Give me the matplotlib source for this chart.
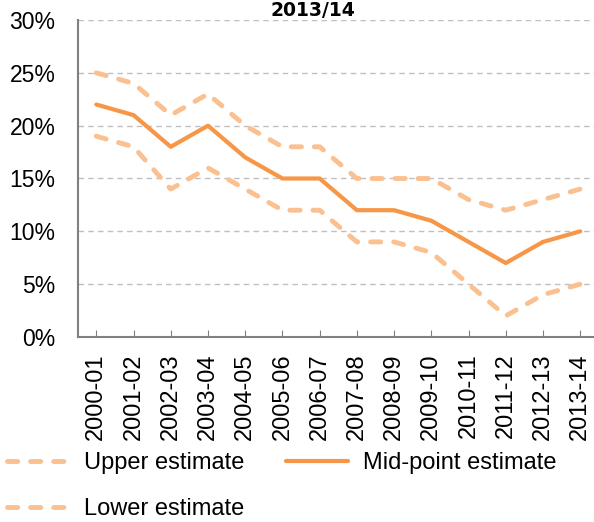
import numpy as np
import matplotlib.pyplot as plt
from matplotlib.ticker import PercentFormatter

# data
years = ['2000-01', '2001-02', '2002-03', '2003-04', '2004-05', '2005-06', '2006-07',
         '2007-08', '2008-09', '2009-10', '2010-11', '2011-12', '2012-13', '2013-14']
upper = [25, 24, 21, 23, 20, 18, 18, 15, 15, 15, 13, 12, 13, 14]
mid = [22, 21, 18, 20, 17, 15, 15, 12, 12, 11, 9, 7, 9, 10]
lower = [19, 18, 14, 16, 14, 12, 12, 9, 9, 8, 5, 2, 4, 5]

plt.rcParams['font.family'] = ['Liberation Sans', 'DejaVu Sans']

fig = plt.figure(figsize=(5.94, 5.22), dpi=100)
ax = fig.add_axes([0.1308, 0.3544, 0.8692, 0.6073])

x = np.arange(len(years))
light = '#FAC090'
dark = '#F79646'
dash = (0, (2.1, 2.65))
l1, = ax.plot(x, upper, color=light, lw=3.5, ls=dash, dash_capstyle='round',
              label='Upper estimate')
l3, = ax.plot(x, lower, color=light, lw=3.5, ls=dash, dash_capstyle='round',
              label='Lower estimate')
l2, = ax.plot(x, mid, color=dark, lw=3.0, solid_capstyle='round', label='Mid-point estimate')

ax.set_ylim(0, 30)
ax.set_xlim(-0.5, 13.37)
ax.set_yticks(range(0, 31, 5))
ax.yaxis.set_major_formatter(PercentFormatter(decimals=0))
ax.set_xticks(x)
ax.set_xticklabels(years, rotation=90, fontsize=17)
ax.tick_params(axis='y', length=0, labelsize=16.5, pad=16)
ax.tick_params(axis='x', direction='in', length=5, color='#808080', pad=12)
ax.grid(axis='y', color='#c0c0c0', ls=(0, (4, 3)), lw=1)
ax.set_axisbelow(True)
for s in ['top', 'right']:
    ax.spines[s].set_visible(False)
for s in ['left', 'bottom']:
    ax.spines[s].set_color('#808080')
    ax.spines[s].set_linewidth(1.5)

fig.text(313 / 594, 1 - 10 / 522, '2013/14', ha='center', va='center', fontsize=13.5,
         fontweight='bold', family='DejaVu Sans')

fig.legend(handles=[l1, l3, l2], loc='lower left', bbox_to_anchor=(7 / 594, 2 / 522), ncol=2,
           frameon=False, fontsize=17, handlelength=2.6, handletextpad=0.64,
           columnspacing=1.8, labelspacing=1.0, borderpad=0, borderaxespad=0)

plt.savefig('out.png')
